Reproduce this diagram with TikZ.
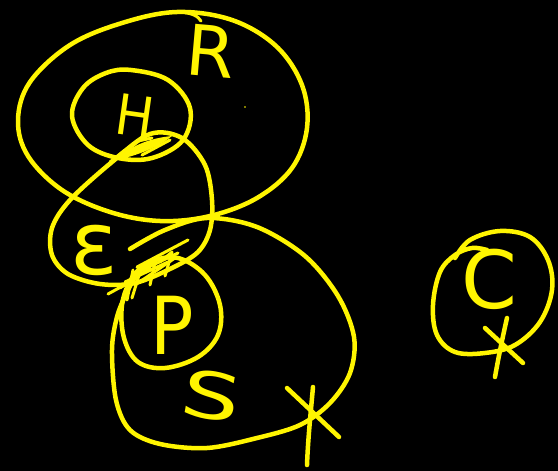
\documentclass[tikz,border=0pt]{standalone}
\usepackage{fontspec}
\setmainfont{DejaVu Sans}
\definecolor{hl}{RGB}{255,245,0}
\tikzset{
  pen/.style={draw=hl, line width=4.5pt, line cap=round, line join=round},
  thinpen/.style={draw=hl, line width=3pt, line cap=round, line join=round},
  lbl/.style={text=hl, inner sep=0pt}
}
\begin{document}
\begin{tikzpicture}[x=1pt,y=-1pt]
\fill[black] (0,0) rectangle (558,471);
\useasboundingbox (0,0) rectangle (558,471);
% R big loop
\draw[pen] plot[smooth cycle, tension=0.6] coordinates {(177,12) (232,20) (276,46) (302,85) (307,128) (292,168) (257,198) (210,216) (160,221) (110,212) (62,190) (28,156) (18,120) (30,82) (70,45) (122,23)};
\draw[thinpen] (180,12) .. controls (192,13) and (198,16) .. (201,21);
% H circle
\draw[pen] plot[smooth cycle, tension=0.6] coordinates {(131,70) (168,80) (190,108) (183,140) (152,158) (118,158) (88,145) (72,116) (83,88) (106,73)};
% E loop
\draw[pen] plot[smooth cycle, tension=0.55] coordinates {(112,162) (150,134) (182,138) (205,165) (212,200) (210,230) (198,252) (172,268) (135,283) (100,284) (68,274) (52,255) (52,228) (70,200)};
% P circle
\draw[pen] plot[smooth cycle, tension=0.6] coordinates {(178,258) (205,275) (220,305) (218,335) (198,357) (165,368) (138,362) (124,338) (122,305) (132,278) (150,262)};
% S big loop
\draw[pen] plot[smooth, tension=0.55] coordinates {(130,249) (165,230) (207,218) (257,227) (305,256) (338,296) (354,337) (350,373) (330,403) (300,425) (257,438) (207,448) (160,444) (130,430) (116,400) (112,350) (117,317) (127,292) (138,272)};
% X on S
\draw[pen] (287,388) -- (339,437);
\draw[pen] (313,387) .. controls (310,420) and (308,440) .. (307,465);
% hatch H/E
\fill[hl] (115,160) .. controls (130,146) and (150,138) .. (172,136) .. controls (160,146) and (138,156) .. (115,160) -- cycle;
\draw[thinpen] (118,158) -- (138,141) -- (152,138);
\draw[thinpen] (110,162) -- (125,150);
\draw[thinpen] (142,155) -- (170,140);
% hatch E/P
\draw[thinpen] (137,267) -- (188,240);
\draw[thinpen] (132,275) -- (178,253);
\draw[thinpen] (125,282) -- (168,262);
\draw[thinpen] (120,288) -- (150,268);
\draw[thinpen] (135,285) -- (175,258);
\draw[thinpen] (133,270) -- (127,300);
\draw[thinpen] (140,272) -- (132,298);
\draw[thinpen] (145,268) -- (155,262) -- (150,285);
\draw[thinpen] (160,262) -- (172,252) -- (165,276);
\draw[thinpen] (108,294) -- (128,283);
% C circle
\draw[pen] plot[smooth, tension=0.6] coordinates {(455,258) (470,240) (500,231) (530,237) (548,260) (552,290) (540,322) (515,345) (485,353) (455,352) (437,335) (433,305) (440,272) (455,255) (472,248) (487,250)};
% X on C
\draw[pen] (485,328) -- (523,363);
\draw[pen] (507,318) .. controls (502,340) and (498,360) .. (495,377);
% dot
\fill[hl] (245,107) circle (0.8pt);
% labels
\node[lbl, font=\fontsize{70}{70}\selectfont, rotate=-5] (R) at (211,51) {R};
\node[lbl, font=\fontsize{56}{56}\selectfont, rotate=-8, xscale=0.9] (H) at (135,116) {H};
\node[lbl, font=\fontsize{88}{88}\selectfont] (E) at (94,250) {ε};
\node[lbl, font=\fontsize{80}{80}\selectfont, xscale=0.9] (P) at (172,325) {P};
\node[lbl, font=\fontsize{64}{64}\selectfont, rotate=-10, xscale=1.45] (S) at (212,396) {S};
\node[lbl, font=\fontsize{80}{80}\selectfont] (C) at (489,279) {C};
\end{tikzpicture}
\end{document}
